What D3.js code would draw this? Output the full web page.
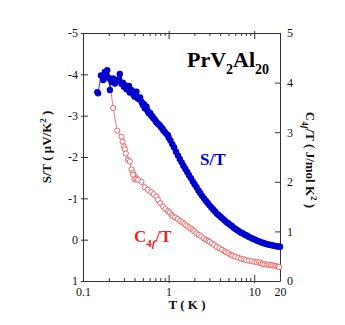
<!DOCTYPE html>
<html><head><meta charset="utf-8">
<script src="https://cdn.jsdelivr.net/npm/d3@7"></script>
<style>body{margin:0;background:#fff}svg{display:block}text{font-family:"Liberation Serif","Times New Roman",serif}</style>
</head><body>
<svg id="c" width="345" height="325"></svg>
<script>
// S/T series (left axis, μV/K²)
const blueT = [0.147,0.150,0.162,0.172,0.180,0.189,0.192,0.202,0.206,0.215,0.225,0.236,0.247,0.264,0.269,0.282,0.292,0.300,0.310,0.322,0.334,0.345,0.352,0.365,0.378,0.390,0.402,0.412,0.421,0.435,0.452,0.465,0.482,0.492,0.502,0.515,0.526,0.540,0.550,0.562,0.574,0.590,0.611,0.628,0.645,0.665,0.688,0.710,0.730,0.758,0.787,0.815,0.847,0.870,0.898,0.940,0.982,
1.00,1.05,1.105,1.16,1.22,1.285,1.35,1.42,1.49,1.57,1.65,1.73,1.82,1.915,2.01,2.12,2.23,2.34,2.46,2.59,2.72,2.86,3.01,3.16,3.32,3.49,3.67,3.86,4.06,4.27,4.49,4.72,4.96,5.21,5.48,5.76,6.05,6.36,6.69,7.03,7.39,7.77,8.17,8.59,9.03,9.49,9.98,10.5,11.0,11.6,12.2,12.8,13.5,14.2,14.9,15.7,16.5,17.3,18.2,19.1,20.0];
const blueS = [-3.57,-3.54,-3.97,-3.86,-4.06,-3.98,-4.10,-3.90,-3.62,-3.82,-3.90,-3.78,-3.85,-3.89,-4.01,-3.77,-3.80,-3.70,-3.74,-3.64,-3.66,-3.72,-3.56,-3.62,-3.60,-3.50,-3.46,-3.52,-3.58,-3.42,-3.40,-3.44,-3.34,-3.30,-3.26,-3.28,-3.18,-3.20,-3.22,-3.14,-3.10,-3.06,-3.06,-3.00,-2.98,-2.94,-2.91,-2.86,-2.83,-2.80,-2.77,-2.72,-2.69,-2.64,-2.61,-2.56,-2.53,
-2.47,-2.40,-2.31,-2.23,-2.13,-2.04,-1.95,-1.87,-1.79,-1.71,-1.64,-1.56,-1.49,-1.41,-1.34,-1.27,-1.19,-1.13,-1.06,-1.00,-0.94,-0.89,-0.83,-0.78,-0.73,-0.68,-0.63,-0.59,-0.55,-0.51,-0.47,-0.43,-0.40,-0.36,-0.33,-0.29,-0.26,-0.23,-0.20,-0.17,-0.15,-0.12,-0.10,-0.07,-0.05,-0.03,-0.01,0.01,0.03,0.05,0.07,0.08,0.10,0.11,0.12,0.13,0.14,0.15,0.16,0.165,0.17];
// C4f/T series (right axis, J/mol K²)
const redT = [0.202,0.225,0.251,0.282,0.290,0.300,0.308,0.316,0.336,0.352,0.368,0.385,0.402,0.385,0.40,0.42,0.44,0.482,0.526,0.57,0.629,0.67,0.719,0.751,0.80,0.859,0.92,0.98,1.03,1.08,1.12,1.19,1.28,1.36,1.45,1.53,1.61,1.7,1.8,1.92,2.0,2.12,2.25,2.4,2.57,2.74,2.9,3.0,3.2,3.4,3.65,3.92,4.2,4.5,4.69,5.0,5.3,5.6,6.0,6.5,7.0,7.5,8.0,8.6,9.3,10.0,10.7,11.4,12.0,12.5,13.2,14.0,14.8,15.6,16.3,17.2,18.0,18.8,19.5];
const redC = [4.10,3.49,3.03,2.91,2.81,2.71,2.66,2.57,2.44,2.41,2.25,2.18,2.11,2.14,2.05,2.06,2.04,2.00,1.89,1.84,1.79,1.75,1.70,1.64,1.57,1.50,1.45,1.41,1.38,1.33,1.30,1.28,1.25,1.21,1.18,1.15,1.12,1.09,1.06,1.03,1.00,0.96,0.93,0.90,0.86,0.83,0.81,0.79,0.76,0.73,0.69,0.66,0.63,0.60,0.58,0.56,0.53,0.51,0.49,0.47,0.45,0.44,0.42,0.41,0.40,0.39,0.38,0.38,0.36,0.34,0.34,0.33,0.33,0.32,0.32,0.31,0.30,0.29,0.28];
const xMajor = [0.1,1,10,20];
const xTickLabels = ["0.1","1","10","20"];
const leftTicks = [-5,-4,-3,-2,-1,0,1];
const rightTicks = [0,1,2,3,4,5];

const L=83,R=280,T=33,B=281;
const svg=d3.select("#c");
const x=d3.scaleLog().domain([0.1,20]).range([L,R]);
const yL=d3.scaleLinear().domain([-5,1]).range([T,B]);
const yR=d3.scaleLinear().domain([0,5]).range([B,T]);
const axisCol="#333";
const minor=x.ticks();

function styleAxis(g){
  g.selectAll("path,line").attr("stroke",axisCol).attr("stroke-width",1);
  g.selectAll("text").attr("font-family","Liberation Serif, serif").attr("font-size",12).attr("fill","#111");
}
// bottom
const gb=svg.append("g").attr("transform",`translate(0,${B})`)
 .call(d3.axisBottom(x).tickValues(minor).tickSize(-3).tickSizeOuter(0).tickPadding(6)
   .tickFormat(d=>{const i=xMajor.findIndex(m=>Math.abs(m-d)<1e-9);return i>=0?xTickLabels[i]:"";}));
gb.selectAll(".tick line").filter(d=>[1,10].includes(d)).attr("y2",-6).attr("y1",2);
styleAxis(gb);
// top
const gt=svg.append("g").attr("transform",`translate(0,${T})`)
 .call(d3.axisTop(x).tickValues(minor).tickSize(-3).tickSizeOuter(0).tickFormat(""));
gt.selectAll(".tick line").filter(d=>[1,10].includes(d)).attr("y2",6).attr("y1",-2);
styleAxis(gt);
// left
const gl=svg.append("g").attr("transform",`translate(${L},0)`)
 .call(d3.axisLeft(yL).tickValues(leftTicks).tickSize(-5).tickSizeOuter(0).tickPadding(5).tickFormat(d=>d<0?"-"+Math.abs(d):String(d)));
gl.selectAll(".tick line").attr("x1",-2);
styleAxis(gl);
// right
const gr=svg.append("g").attr("transform",`translate(${R},0)`)
 .call(d3.axisRight(yR).tickValues(rightTicks).tickSize(-5).tickSizeOuter(0).tickPadding(7).tickFormat(d3.format("d")));
styleAxis(gr);
gr.selectAll("text").attr("text-anchor","start");

// red series
const redCol="#e8555a";
const red=redT.map((t,i)=>[t,redC[i]]);
svg.append("path").datum(red).attr("fill","none").attr("stroke",redCol).attr("stroke-width",0.8)
 .attr("d",d3.line().x(d=>x(d[0])).y(d=>yR(d[1])));
svg.append("g").selectAll("circle").data(red).join("circle")
 .attr("cx",d=>x(d[0])).attr("cy",d=>yR(d[1])).attr("r",2.6)
 .attr("fill","#fff").attr("stroke",redCol).attr("stroke-width",0.9);

// blue series
const blueCol="#0000cc";
const blue=blueT.map((t,i)=>[t,blueS[i]]);
svg.append("path").datum(blue).attr("fill","none").attr("stroke",blueCol).attr("stroke-width",0.8)
 .attr("d",d3.line().x(d=>x(d[0])).y(d=>yL(d[1])));
svg.append("g").selectAll("circle").data(blue).join("circle")
 .attr("cx",d=>x(d[0])).attr("cy",d=>yL(d[1])).attr("r",3.2).attr("fill",blueCol);

// title
const tt=svg.append("text").attr("x",187).attr("y",67).attr("font-size",22).attr("font-weight","bold").attr("fill","#000");
tt.append("tspan").text("PrV");
tt.append("tspan").attr("font-size",14).attr("dy",7).text("2");
tt.append("tspan").attr("dy",-7).text("Al");
tt.append("tspan").attr("font-size",14).attr("dy",7).text("20");

// series labels
svg.append("text").attr("x",200).attr("y",165).attr("font-size",17).attr("font-weight","bold").attr("fill",blueCol).text("S/T");
const cl=svg.append("text").attr("x",134).attr("y",242).attr("font-size",17).attr("font-weight","bold").attr("fill","#e02828");
cl.append("tspan").text("C");
cl.append("tspan").attr("font-size",11).attr("dy",5).text("4");
cl.append("tspan").attr("font-size",11).attr("font-style","italic").text("f");
cl.append("tspan").attr("dy",-5).text("/T");

// axis titles
const yl=svg.append("text").attr("transform","translate(51,147) rotate(-90)").attr("text-anchor","middle")
 .attr("font-size",13).attr("font-weight","bold").attr("fill","#111");
yl.append("tspan").text("S/T ( μV/K");
yl.append("tspan").attr("font-size",9).attr("dy",-5).text("2");
yl.append("tspan").attr("dy",5).text(" )");

const yr=svg.append("text").attr("transform","translate(306,160) rotate(90)").attr("text-anchor","middle")
 .attr("font-size",13).attr("font-weight","bold").attr("fill","#111");
yr.append("tspan").text("C");
yr.append("tspan").attr("font-size",9).attr("dy",4).text("4");
yr.append("tspan").attr("font-size",9).attr("font-style","italic").text("f");
yr.append("tspan").attr("dy",-4).text("/T ( J/mol K");
yr.append("tspan").attr("font-size",9).attr("dy",-5).text("2");
yr.append("tspan").attr("dy",5).text(" )");

svg.append("text").attr("x",187).attr("y",309).attr("text-anchor","middle").attr("font-size",13).attr("font-weight","bold").attr("fill","#111").text("T ( K )");
</script>
</body></html>
